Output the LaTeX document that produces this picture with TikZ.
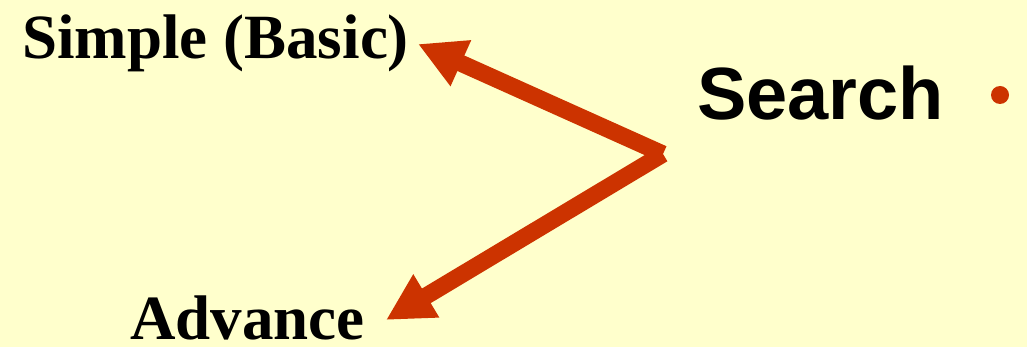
\documentclass[tikz,border=0pt]{standalone}
\usepackage{fontspec}
\setmainfont{Liberation Serif}
\newfontfamily\searchfont{Liberation Sans}
\usetikzlibrary{arrows.meta}
\definecolor{bgyellow}{HTML}{FFFFCC}
\definecolor{arrowred}{HTML}{CC3300}
\begin{document}
\begin{tikzpicture}[x=1pt,y=-1pt,
  lbl/.style={inner sep=0pt,anchor=base west,font=\fontsize{63}{70}\selectfont\bfseries},
  bigarrow/.style={draw=arrowred,line width=17pt,line cap=butt,
    arrows={-Triangle[length=47pt 0 0,width=47pt 0 0]}}]
\fill[bgyellow] (0,0) rectangle (1027,347);
\useasboundingbox (0,0) rectangle (1027,347);
\node[lbl] (simple) at (22,59) {Simple (Basic)};
\node[lbl] (advance) at (130,339) {Advance};
\node[inner sep=0pt,anchor=base west,font=\fontsize{74}{80}\selectfont\searchfont\bfseries] (search) at (697,120) {Search};
\fill[arrowred] (1000,95) circle[radius=9] coordinate (dot);
\coordinate (topTip) at (418,44);
\coordinate (joint) at (663,154);
\coordinate (botTip) at (386,320);
\draw[bigarrow] (joint) -- (topTip);
\draw[bigarrow] (joint) -- (botTip);
\end{tikzpicture}
\end{document}
